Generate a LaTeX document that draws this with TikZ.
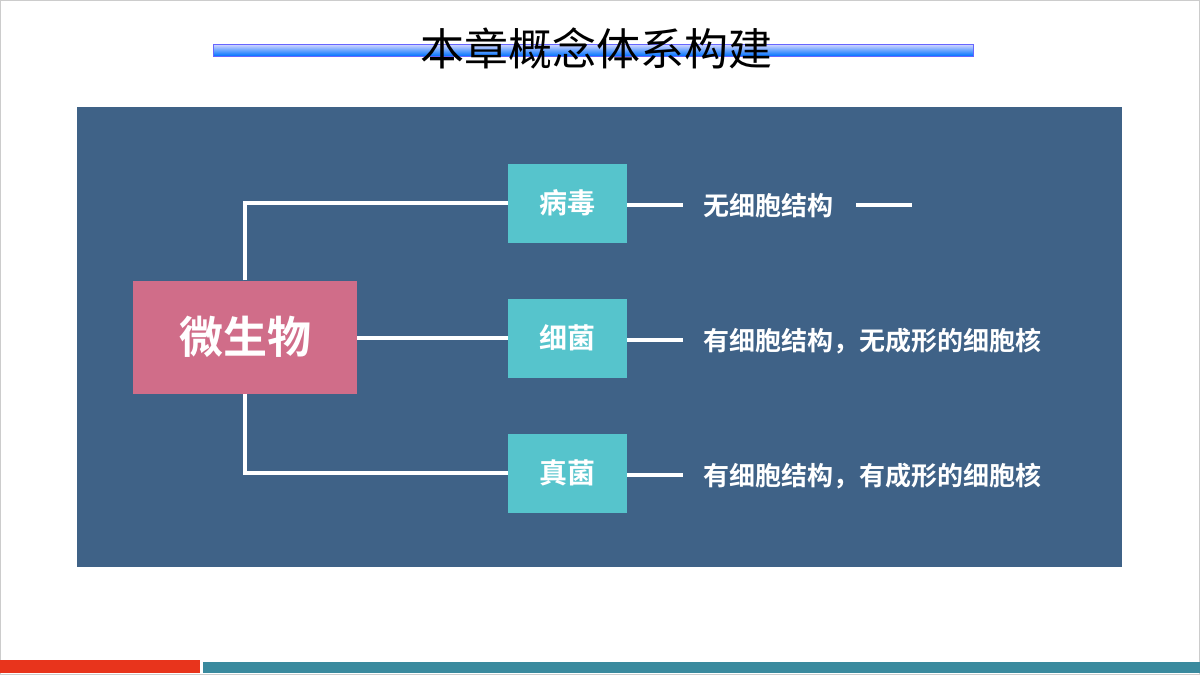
\documentclass[tikz,border=0pt]{standalone}
\usepackage{fontspec}
\newfontfamily\cjk{Noto Sans CJK SC}
\newfontfamily\cjkb{Noto Sans CJK SC Bold}
\definecolor{panel}{HTML}{3F6287}
\definecolor{pinkbox}{HTML}{D06D89}
\definecolor{cyanbox}{HTML}{56C4CC}
\definecolor{redbar}{HTML}{E8341C}
\definecolor{tealbar}{HTML}{3A8A9E}
\tikzset{
 cbox/.style={fill=cyanbox,minimum width=119pt,minimum height=79pt,inner sep=0pt,text=white,font=\cjkb\fontsize{28}{28}\selectfont},
 wl/.style={white,line width=4pt},
 lbl/.style={anchor=west,text=white,inner sep=0pt,font=\cjkb\fontsize{26}{26}\selectfont}
}
\begin{document}
\begin{tikzpicture}[x=1pt,y=-1pt]
\useasboundingbox (0,0) rectangle (1200,675);
\fill[white] (0,0) rectangle (1200,675);
\draw[gray!40] (0.5,0.5) rectangle (1199.5,674.5);
% title bar
\shade[top color=blue!15,bottom color=blue!55!cyan,draw=blue!60] (213,44) rectangle (973,56);
\node (title) [text=black,font=\cjk\fontsize{44}{44}\selectfont] at (596,48) {本章概念体系构建};
% panel
\fill[panel] (77,107) rectangle (1122,567);
\node (m) [fill=pinkbox,minimum width=224pt,minimum height=113pt,inner sep=0pt,text=white,font=\cjkb\fontsize{44}{44}\selectfont] at (245,337) {微生物};
\node (a) [cbox] at (567.5,203) {病毒};
\node (b) [cbox] at (567.5,338) {细菌};
\node (c) [cbox] at (567.5,473) {真菌};
\draw[wl] (m.north) |- (a.west);
\draw[wl] (m.south) |- (c.west);
\draw[wl] (m.east|-b.west) -- (b.west);
\coordinate (ae) at (683,205);
\coordinate (be) at (683,340);
\coordinate (ce) at (683,475);
\draw[wl] (a.east|-ae) -- (ae);
\draw[wl] (b.east|-be) -- (be);
\draw[wl] (c.east|-ce) -- (ce);
\node (ta) [lbl] at (703,206) {无细胞结构};
\node (tb) [lbl] at (703,341) {有细胞结构，无成形的细胞核};
\node (tc) [lbl] at (703,476) {有细胞结构，有成形的细胞核};
\coordinate (d1) at (856,205);
\coordinate (d2) at (912,205);
\draw[wl] (d1) -- (d2);
% bottom bars
\fill[redbar] (0,660) rectangle (200,673);
\fill[tealbar] (203,662) rectangle (1200,673);
\end{tikzpicture}
\end{document}
